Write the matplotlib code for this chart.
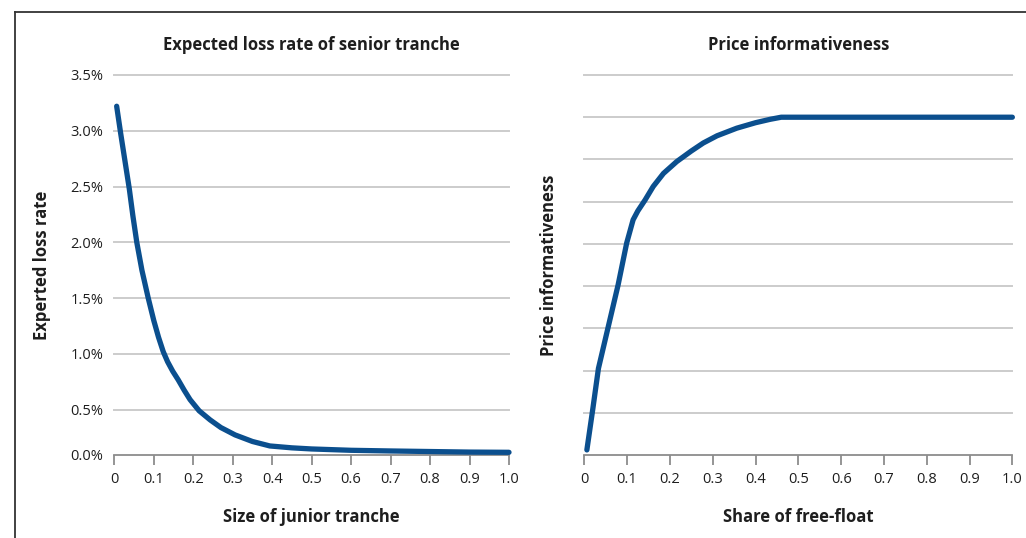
import matplotlib
matplotlib.use("Agg")
import matplotlib.pyplot as plt
from matplotlib.lines import Line2D

# Left panel: expected loss rate (%) vs size of junior tranche
junior_size = [0.006, 0.016, 0.027, 0.038, 0.047, 0.057, 0.07, 0.086, 0.1, 0.112,
               0.124, 0.135, 0.148, 0.162, 0.177, 0.192, 0.215, 0.243, 0.27, 0.306,
               0.35, 0.394, 0.45, 0.5, 0.6, 0.7, 0.8, 0.9, 1.0]
loss_rate = [3.22, 2.98, 2.73, 2.48, 2.24, 2.0, 1.75, 1.5, 1.3, 1.15,
             1.02, 0.93, 0.845, 0.767, 0.675, 0.59, 0.49, 0.408, 0.34, 0.274,
             0.215, 0.175, 0.158, 0.148, 0.136, 0.13, 0.125, 0.12, 0.118]

# Right panel: price informativeness vs share of free-float
free_float = [0.006, 0.02, 0.033, 0.056, 0.079, 0.099, 0.114, 0.125, 0.142, 0.161, 0.185,
              0.216, 0.25, 0.278, 0.31, 0.356, 0.4, 0.434, 0.46, 1.0]
informativeness = [0.012, 0.11, 0.205, 0.304, 0.403, 0.502, 0.557, 0.578, 0.604, 0.636, 0.667,
                   0.695, 0.72, 0.739, 0.756, 0.774, 0.787, 0.795, 0.8, 0.8]

x_ticks = [0, 0.1, 0.2, 0.3, 0.4, 0.5, 0.6, 0.7, 0.8, 0.9, 1.0]
x_tick_labels = ["0", "0.1", "0.2", "0.3", "0.4", "0.5", "0.6", "0.7", "0.8", "0.9", "1.0"]
left_y_ticks = [0.094, 0.5, 1.0, 1.5, 2.0, 2.5, 3.0, 3.5]
left_y_labels = ["0.0%", "0.5%", "1.0%", "1.5%", "2.0%", "2.5%", "3.0%", "3.5%"]
right_y_ticks = [0.1, 0.2, 0.3, 0.4, 0.5, 0.6, 0.7, 0.8, 0.9]

plt.rcParams['font.family'] = ['Open Sans', 'DejaVu Sans']
TEXT = '#1e1e1e'
LINE = '#0b4f8e'
GRID = '#cccccc'
AXIS = '#8c8c8c'

fig = plt.figure(figsize=(10.26, 5.38), dpi=100)
fig.patch.set_facecolor('white')

axL = fig.add_axes([0.1114, 0.1543, 0.3847, 0.7063])
axR = fig.add_axes([0.5695, 0.1543, 0.4172, 0.7063])

def style(ax):
    for s in ['top', 'right', 'left']:
        ax.spines[s].set_visible(False)
    ax.spines['bottom'].set_color(AXIS)
    ax.spines['bottom'].set_linewidth(1.3)
    ax.tick_params(axis='x', direction='out', length=7, width=1.3, color=AXIS,
                   labelsize=10.5, labelcolor=TEXT, pad=5)
    ax.tick_params(axis='y', length=0, labelsize=10.5, labelcolor=TEXT, pad=8)
    ax.set_xlim(0, 1.0)
    ax.set_xticks(x_ticks)
    ax.set_xticklabels(x_tick_labels)

# Left panel
style(axL)
axL.set_ylim(0.094, 3.5)
for v in left_y_ticks[1:]:
    axL.axhline(v, color=GRID, lw=1.4, zorder=1, clip_on=False)
axL.set_yticks(left_y_ticks)
axL.set_yticklabels(left_y_labels)
axL.plot(junior_size, loss_rate, color=LINE, lw=3.8, solid_capstyle='round',
         solid_joinstyle='round', zorder=3, clip_on=False)
axL.set_title("Expected loss rate of senior tranche", fontsize=12, fontweight='bold',
              color=TEXT, y=1.045)
axL.set_xlabel("Size of junior tranche", fontsize=12, fontweight='bold', color=TEXT)
axL.xaxis.set_label_coords(0.5, -0.14)
axL.set_ylabel("Experted loss rate", fontsize=12, fontweight='bold', color=TEXT)
axL.yaxis.set_label_coords(-0.16, 0.5)

# Right panel
style(axR)
axR.set_ylim(0, 0.9)
for v in right_y_ticks:
    axR.axhline(v, color=GRID, lw=1.4, zorder=1, clip_on=False)
axR.set_yticks([])
axR.plot(free_float, informativeness, color=LINE, lw=3.8, solid_capstyle='round',
         solid_joinstyle='round', zorder=3, clip_on=False)
axR.set_title("Price informativeness", fontsize=12, fontweight='bold',
              color=TEXT, y=1.045)
axR.set_xlabel("Share of free-float", fontsize=12, fontweight='bold', color=TEXT)
axR.xaxis.set_label_coords(0.5, -0.14)
axR.set_ylabel("Price informativeness", fontsize=12, fontweight='bold', color=TEXT)
axR.yaxis.set_label_coords(-0.062, 0.5)

# Outer frame (left and top edges)
fx = 15 / 1026
fy = 1 - 12 / 538
fig.add_artist(Line2D([fx, fx], [0, fy], transform=fig.transFigure, color='#333333', lw=1.3))
fig.add_artist(Line2D([fx, 1.0], [fy, fy], transform=fig.transFigure, color='#333333', lw=1.3))

fig.savefig("out.png", dpi=100, facecolor='white')
